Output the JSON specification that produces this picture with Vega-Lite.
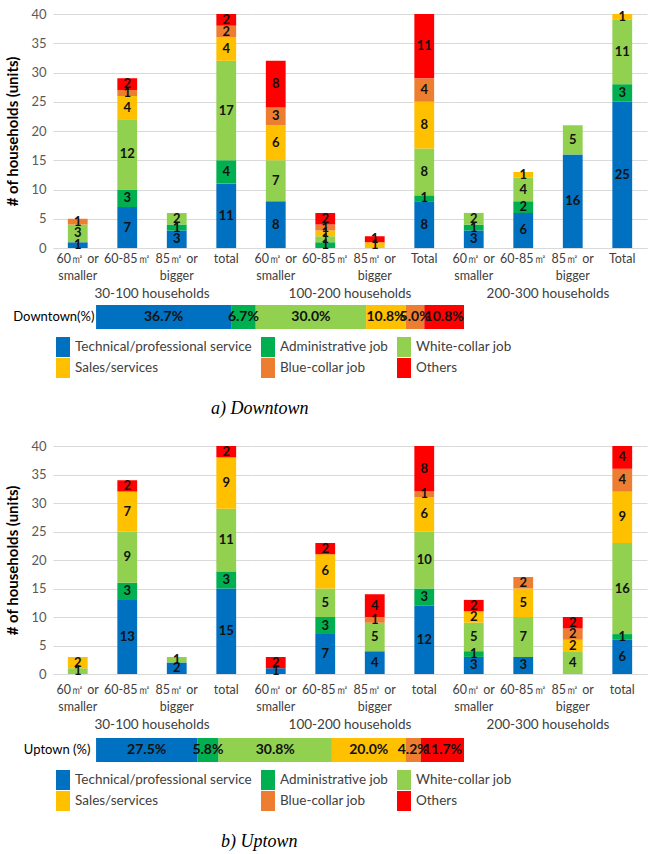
{
  "$schema": "https://vega.github.io/schema/vega-lite/v6.json",
  "background": "white",
  "padding": {"left": 5, "right": 5, "top": 8, "bottom": 0},
  "config": {"view": {"stroke": null}, "font": "Lato"},
  "datasets": {
    "jobs": [
      {"j": "Technical/professional service", "k": 1},
      {"j": "Administrative job", "k": 2},
      {"j": "White-collar job", "k": 3},
      {"j": "Sales/services", "k": 4},
      {"j": "Blue-collar job", "k": 5},
      {"j": "Others", "k": 6}
    ],
    "down": [
      {"g": "30-100 households", "s": "60㎡ or|smaller", "j": "Technical/professional service", "n": 1},
      {"g": "30-100 households", "s": "60㎡ or|smaller", "j": "White-collar job", "n": 3},
      {"g": "30-100 households", "s": "60㎡ or|smaller", "j": "Blue-collar job", "n": 1},
      {"g": "30-100 households", "s": "60-85㎡", "j": "Technical/professional service", "n": 7},
      {"g": "30-100 households", "s": "60-85㎡", "j": "Administrative job", "n": 3},
      {"g": "30-100 households", "s": "60-85㎡", "j": "White-collar job", "n": 12},
      {"g": "30-100 households", "s": "60-85㎡", "j": "Sales/services", "n": 4},
      {"g": "30-100 households", "s": "60-85㎡", "j": "Blue-collar job", "n": 1},
      {"g": "30-100 households", "s": "60-85㎡", "j": "Others", "n": 2},
      {"g": "30-100 households", "s": "85㎡ or|bigger", "j": "Technical/professional service", "n": 3},
      {"g": "30-100 households", "s": "85㎡ or|bigger", "j": "Administrative job", "n": 1},
      {"g": "30-100 households", "s": "85㎡ or|bigger", "j": "White-collar job", "n": 2},
      {"g": "30-100 households", "s": "total", "j": "Technical/professional service", "n": 11},
      {"g": "30-100 households", "s": "total", "j": "Administrative job", "n": 4},
      {"g": "30-100 households", "s": "total", "j": "White-collar job", "n": 17},
      {"g": "30-100 households", "s": "total", "j": "Sales/services", "n": 4},
      {"g": "30-100 households", "s": "total", "j": "Blue-collar job", "n": 2},
      {"g": "30-100 households", "s": "total", "j": "Others", "n": 2},
      {"g": "100-200 households", "s": "60㎡ or|smaller", "j": "Technical/professional service", "n": 8},
      {"g": "100-200 households", "s": "60㎡ or|smaller", "j": "White-collar job", "n": 7},
      {"g": "100-200 households", "s": "60㎡ or|smaller", "j": "Sales/services", "n": 6},
      {"g": "100-200 households", "s": "60㎡ or|smaller", "j": "Blue-collar job", "n": 3},
      {"g": "100-200 households", "s": "60㎡ or|smaller", "j": "Others", "n": 8},
      {"g": "100-200 households", "s": "60-85㎡", "j": "Administrative job", "n": 1},
      {"g": "100-200 households", "s": "60-85㎡", "j": "White-collar job", "n": 1},
      {"g": "100-200 households", "s": "60-85㎡", "j": "Sales/services", "n": 1},
      {"g": "100-200 households", "s": "60-85㎡", "j": "Blue-collar job", "n": 1},
      {"g": "100-200 households", "s": "60-85㎡", "j": "Others", "n": 2},
      {"g": "100-200 households", "s": "85㎡ or|bigger", "j": "Sales/services", "n": 1},
      {"g": "100-200 households", "s": "85㎡ or|bigger", "j": "Others", "n": 1},
      {"g": "100-200 households", "s": "Total", "j": "Technical/professional service", "n": 8},
      {"g": "100-200 households", "s": "Total", "j": "Administrative job", "n": 1},
      {"g": "100-200 households", "s": "Total", "j": "White-collar job", "n": 8},
      {"g": "100-200 households", "s": "Total", "j": "Sales/services", "n": 8},
      {"g": "100-200 households", "s": "Total", "j": "Blue-collar job", "n": 4},
      {"g": "100-200 households", "s": "Total", "j": "Others", "n": 11},
      {"g": "200-300 households", "s": "60㎡ or|smaller", "j": "Technical/professional service", "n": 3},
      {"g": "200-300 households", "s": "60㎡ or|smaller", "j": "Administrative job", "n": 1},
      {"g": "200-300 households", "s": "60㎡ or|smaller", "j": "White-collar job", "n": 2},
      {"g": "200-300 households", "s": "60-85㎡", "j": "Technical/professional service", "n": 6},
      {"g": "200-300 households", "s": "60-85㎡", "j": "Administrative job", "n": 2},
      {"g": "200-300 households", "s": "60-85㎡", "j": "White-collar job", "n": 4},
      {"g": "200-300 households", "s": "60-85㎡", "j": "Sales/services", "n": 1},
      {"g": "200-300 households", "s": "85㎡ or|bigger", "j": "Technical/professional service", "n": 16},
      {"g": "200-300 households", "s": "85㎡ or|bigger", "j": "White-collar job", "n": 5},
      {"g": "200-300 households", "s": "Total", "j": "Technical/professional service", "n": 25},
      {"g": "200-300 households", "s": "Total", "j": "Administrative job", "n": 3},
      {"g": "200-300 households", "s": "Total", "j": "White-collar job", "n": 11},
      {"g": "200-300 households", "s": "Total", "j": "Sales/services", "n": 1}
    ],
    "up": [
      {"g": "30-100 households", "s": "60㎡ or|smaller", "j": "White-collar job", "n": 1},
      {"g": "30-100 households", "s": "60㎡ or|smaller", "j": "Sales/services", "n": 2},
      {"g": "30-100 households", "s": "60-85㎡", "j": "Technical/professional service", "n": 13},
      {"g": "30-100 households", "s": "60-85㎡", "j": "Administrative job", "n": 3},
      {"g": "30-100 households", "s": "60-85㎡", "j": "White-collar job", "n": 9},
      {"g": "30-100 households", "s": "60-85㎡", "j": "Sales/services", "n": 7},
      {"g": "30-100 households", "s": "60-85㎡", "j": "Others", "n": 2},
      {"g": "30-100 households", "s": "85㎡ or|bigger", "j": "Technical/professional service", "n": 2},
      {"g": "30-100 households", "s": "85㎡ or|bigger", "j": "White-collar job", "n": 1},
      {"g": "30-100 households", "s": "total", "j": "Technical/professional service", "n": 15},
      {"g": "30-100 households", "s": "total", "j": "Administrative job", "n": 3},
      {"g": "30-100 households", "s": "total", "j": "White-collar job", "n": 11},
      {"g": "30-100 households", "s": "total", "j": "Sales/services", "n": 9},
      {"g": "30-100 households", "s": "total", "j": "Others", "n": 2},
      {"g": "100-200 households", "s": "60㎡ or|smaller", "j": "Technical/professional service", "n": 1},
      {"g": "100-200 households", "s": "60㎡ or|smaller", "j": "Others", "n": 2},
      {"g": "100-200 households", "s": "60-85㎡", "j": "Technical/professional service", "n": 7},
      {"g": "100-200 households", "s": "60-85㎡", "j": "Administrative job", "n": 3},
      {"g": "100-200 households", "s": "60-85㎡", "j": "White-collar job", "n": 5},
      {"g": "100-200 households", "s": "60-85㎡", "j": "Sales/services", "n": 6},
      {"g": "100-200 households", "s": "60-85㎡", "j": "Others", "n": 2},
      {"g": "100-200 households", "s": "85㎡ or|bigger", "j": "Technical/professional service", "n": 4},
      {"g": "100-200 households", "s": "85㎡ or|bigger", "j": "White-collar job", "n": 5},
      {"g": "100-200 households", "s": "85㎡ or|bigger", "j": "Blue-collar job", "n": 1},
      {"g": "100-200 households", "s": "85㎡ or|bigger", "j": "Others", "n": 4},
      {"g": "100-200 households", "s": "total", "j": "Technical/professional service", "n": 12},
      {"g": "100-200 households", "s": "total", "j": "Administrative job", "n": 3},
      {"g": "100-200 households", "s": "total", "j": "White-collar job", "n": 10},
      {"g": "100-200 households", "s": "total", "j": "Sales/services", "n": 6},
      {"g": "100-200 households", "s": "total", "j": "Blue-collar job", "n": 1},
      {"g": "100-200 households", "s": "total", "j": "Others", "n": 8},
      {"g": "200-300 households", "s": "60㎡ or|smaller", "j": "Technical/professional service", "n": 3},
      {"g": "200-300 households", "s": "60㎡ or|smaller", "j": "Administrative job", "n": 1},
      {"g": "200-300 households", "s": "60㎡ or|smaller", "j": "White-collar job", "n": 5},
      {"g": "200-300 households", "s": "60㎡ or|smaller", "j": "Sales/services", "n": 2},
      {"g": "200-300 households", "s": "60㎡ or|smaller", "j": "Others", "n": 2},
      {"g": "200-300 households", "s": "60-85㎡", "j": "Technical/professional service", "n": 3},
      {"g": "200-300 households", "s": "60-85㎡", "j": "White-collar job", "n": 7},
      {"g": "200-300 households", "s": "60-85㎡", "j": "Sales/services", "n": 5},
      {"g": "200-300 households", "s": "60-85㎡", "j": "Blue-collar job", "n": 2},
      {"g": "200-300 households", "s": "85㎡ or|bigger", "j": "White-collar job", "n": 4},
      {"g": "200-300 households", "s": "85㎡ or|bigger", "j": "Sales/services", "n": 2},
      {"g": "200-300 households", "s": "85㎡ or|bigger", "j": "Blue-collar job", "n": 2},
      {"g": "200-300 households", "s": "85㎡ or|bigger", "j": "Others", "n": 2},
      {"g": "200-300 households", "s": "total", "j": "Technical/professional service", "n": 6},
      {"g": "200-300 households", "s": "total", "j": "Administrative job", "n": 1},
      {"g": "200-300 households", "s": "total", "j": "White-collar job", "n": 16},
      {"g": "200-300 households", "s": "total", "j": "Sales/services", "n": 9},
      {"g": "200-300 households", "s": "total", "j": "Blue-collar job", "n": 4},
      {"g": "200-300 households", "s": "total", "j": "Others", "n": 4}
    ],
    "downPct": [
      {"j": "Technical/professional service", "p": 0.367},
      {"j": "Administrative job", "p": 0.067},
      {"j": "White-collar job", "p": 0.300},
      {"j": "Sales/services", "p": 0.108},
      {"j": "Blue-collar job", "p": 0.050},
      {"j": "Others", "p": 0.108}
    ],
    "upPct": [
      {"j": "Technical/professional service", "p": 0.275},
      {"j": "Administrative job", "p": 0.058},
      {"j": "White-collar job", "p": 0.308},
      {"j": "Sales/services", "p": 0.200},
      {"j": "Blue-collar job", "p": 0.042},
      {"j": "Others", "p": 0.117}
    ]
  },
  "resolve": {"scale": {"color": "independent"}, "legend": {"color": "independent"}},
  "spacing": 22,
  "vconcat": [
    {
      "spacing": 4,
      "resolve": {"scale": {"color": "independent"}, "legend": {"color": "independent"}},
      "vconcat": [
        {
          "data": {"name": "down"},
          "transform": [{"lookup": "j", "from": {"data": {"name": "jobs"}, "key": "j", "fields": ["k"]}}],
          "facet": {"column": {"field": "g", "type": "nominal", "sort": ["30-100 households", "100-200 households", "200-300 households"], "header": {"title": null, "labelOrient": "bottom", "labelFont": "Lato", "labelFontSize": 13.5, "labelColor": "#404040", "labelPadding": 5}}},
          "spacing": 0,
          "resolve": {"scale": {"x": "independent"}},
          "spec": {
            "width": 198,
            "height": 234,
            "encoding": {
              "x": {"field": "s", "type": "nominal", "sort": ["60㎡ or|smaller", "60-85㎡", "85㎡ or|bigger", "total", "Total"], "scale": {"paddingInner": 0.6, "paddingOuter": 0.3}, "axis": {"title": null, "labelAngle": 0, "labelExpr": "split(datum.label, '|')", "labelFont": "Lato", "labelFontSize": 12.5, "labelColor": "#404040", "labelLineHeight": 17, "ticks": false, "domainColor": "#d9d9d9", "labelPadding": 4}},
              "order": {"field": "k", "type": "quantitative", "sort": "ascending"}
            },
            "layer": [
              {
                "mark": {"type": "bar"},
                "encoding": {
                  "y": {"field": "n", "type": "quantitative", "stack": "zero", "scale": {"domain": [0, 40]}, "axis": {"title": "# of households (units)", "titleFont": "Lato", "titleFontSize": 15, "titleFontWeight": "bold", "titleColor": "black", "titlePadding": 10, "values": [0, 5, 10, 15, 20, 25, 30, 35, 40], "labelOverlap": false, "labelFont": "Lato", "labelFontSize": 13, "labelColor": "#595959", "domain": false, "ticks": false, "gridColor": "#d9d9d9", "labelPadding": 7}},
                  "color": {"field": "j", "type": "nominal", "scale": {"domain": ["Technical/professional service", "Administrative job", "White-collar job", "Sales/services", "Blue-collar job", "Others"], "range": ["#0070C0", "#00B050", "#92D050", "#FFC000", "#ED7D31", "#FF0000"]}, "legend": null}
                }
              },
              {
                "mark": {"type": "text", "font": "Lato", "fontWeight": "bold", "fontSize": 13, "color": "#111111"},
                "encoding": {
                  "y": {"field": "n", "type": "quantitative", "stack": "zero", "bandPosition": 0.5, "scale": {"domain": [0, 40]}, "axis": {"title": "# of households (units)", "titleFont": "Lato", "titleFontSize": 15, "titleFontWeight": "bold", "titleColor": "black", "titlePadding": 10, "values": [0, 5, 10, 15, 20, 25, 30, 35, 40], "labelOverlap": false, "labelFont": "Lato", "labelFontSize": 13, "labelColor": "#595959", "domain": false, "ticks": false, "gridColor": "#d9d9d9", "labelPadding": 7}},
                  "text": {"field": "n", "type": "quantitative"},
                  "detail": {"field": "j", "type": "nominal"}
                }
              }
            ]
          }
        },
        {
          "data": {"name": "downPct"},
          "transform": [{"lookup": "j", "from": {"data": {"name": "jobs"}, "key": "j", "fields": ["k"]}}],
          "width": 595,
          "height": 24,
          "title": {"text": "a)  Downtown", "orient": "bottom", "anchor": "start", "frame": "group", "dx": 158, "font": "Liberation Serif", "fontSize": 18, "fontStyle": "italic", "fontWeight": "normal", "color": "black", "offset": 22},
          "encoding": {
            "y": {"datum": "Downtown(%)", "type": "nominal", "scale": {"paddingInner": 0, "paddingOuter": 0}, "axis": {"title": null, "domain": false, "ticks": false, "labelFont": "Lato", "labelFontSize": 13, "labelColor": "black", "offset": -43, "labelPadding": 2}},
            "order": {"field": "k", "type": "quantitative", "sort": "ascending"}
          },
          "layer": [
            {
              "mark": {"type": "bar"},
              "encoding": {
                "x": {"field": "p", "type": "quantitative", "stack": "zero", "scale": {"domain": [-0.117, 1.5], "nice": false, "zero": false}, "axis": null},
                "color": {"field": "j", "type": "nominal", "sort": ["Technical/professional service", "Administrative job", "White-collar job", "Sales/services", "Blue-collar job", "Others"], "scale": {"domain": ["Technical/professional service", "Administrative job", "White-collar job", "Sales/services", "Blue-collar job", "Others"], "range": ["#0070C0", "#00B050", "#92D050", "#FFC000", "#ED7D31", "#FF0000"]}, "legend": {"orient": "bottom", "direction": "horizontal", "columns": 3, "title": null, "labelFont": "Lato", "labelFontSize": 13.5, "labelColor": "#404040", "labelOffset": 2, "symbolType": "M-0.7,-1H0.7V1H-0.7Z", "symbolSize": 400, "symbolStrokeWidth": 0, "columnPadding": 6, "rowPadding": 1, "offset": 8, "labelLimit": 300}}
              }
            },
            {
              "mark": {"type": "text", "font": "Lato", "fontWeight": "bold", "fontSize": 14, "color": "#111111"},
              "encoding": {
                "x": {"field": "p", "type": "quantitative", "stack": "zero", "bandPosition": 0.5, "scale": {"domain": [-0.117, 1.5], "nice": false, "zero": false}, "axis": null},
                "text": {"field": "p", "type": "quantitative", "format": ".1%"},
                "detail": {"field": "j", "type": "nominal"}
              }
            }
          ]
        }
      ]
    },
    {
      "spacing": 6,
      "resolve": {"scale": {"color": "independent"}, "legend": {"color": "independent"}},
      "vconcat": [
        {
          "data": {"name": "up"},
          "transform": [{"lookup": "j", "from": {"data": {"name": "jobs"}, "key": "j", "fields": ["k"]}}],
          "facet": {"column": {"field": "g", "type": "nominal", "sort": ["30-100 households", "100-200 households", "200-300 households"], "header": {"title": null, "labelOrient": "bottom", "labelFont": "Lato", "labelFontSize": 13.5, "labelColor": "#404040", "labelPadding": 5}}},
          "spacing": 0,
          "resolve": {"scale": {"x": "independent"}},
          "spec": {
            "width": 198,
            "height": 228,
            "encoding": {
              "x": {"field": "s", "type": "nominal", "sort": ["60㎡ or|smaller", "60-85㎡", "85㎡ or|bigger", "total", "Total"], "scale": {"paddingInner": 0.6, "paddingOuter": 0.3}, "axis": {"title": null, "labelAngle": 0, "labelExpr": "split(datum.label, '|')", "labelFont": "Lato", "labelFontSize": 12.5, "labelColor": "#404040", "labelLineHeight": 17, "ticks": false, "domainColor": "#d9d9d9", "labelPadding": 9}},
              "order": {"field": "k", "type": "quantitative", "sort": "ascending"}
            },
            "layer": [
              {
                "mark": {"type": "bar"},
                "encoding": {
                  "y": {"field": "n", "type": "quantitative", "stack": "zero", "scale": {"domain": [0, 40]}, "axis": {"title": "# of households (units)", "titleFont": "Lato", "titleFontSize": 15, "titleFontWeight": "bold", "titleColor": "black", "titlePadding": 10, "values": [0, 5, 10, 15, 20, 25, 30, 35, 40], "labelOverlap": false, "labelFont": "Lato", "labelFontSize": 13, "labelColor": "#595959", "domain": false, "ticks": false, "gridColor": "#d9d9d9", "labelPadding": 7}},
                  "color": {"field": "j", "type": "nominal", "scale": {"domain": ["Technical/professional service", "Administrative job", "White-collar job", "Sales/services", "Blue-collar job", "Others"], "range": ["#0070C0", "#00B050", "#92D050", "#FFC000", "#ED7D31", "#FF0000"]}, "legend": null}
                }
              },
              {
                "mark": {"type": "text", "font": "Lato", "fontWeight": "bold", "fontSize": 13, "color": "#111111"},
                "encoding": {
                  "y": {"field": "n", "type": "quantitative", "stack": "zero", "bandPosition": 0.5, "scale": {"domain": [0, 40]}, "axis": {"title": "# of households (units)", "titleFont": "Lato", "titleFontSize": 15, "titleFontWeight": "bold", "titleColor": "black", "titlePadding": 10, "values": [0, 5, 10, 15, 20, 25, 30, 35, 40], "labelOverlap": false, "labelFont": "Lato", "labelFontSize": 13, "labelColor": "#595959", "domain": false, "ticks": false, "gridColor": "#d9d9d9", "labelPadding": 7}},
                  "text": {"field": "n", "type": "quantitative"},
                  "detail": {"field": "j", "type": "nominal"}
                }
              }
            ]
          }
        },
        {
          "data": {"name": "upPct"},
          "transform": [{"lookup": "j", "from": {"data": {"name": "jobs"}, "key": "j", "fields": ["k"]}}],
          "width": 595,
          "height": 24,
          "title": {"text": "b)  Uptown", "orient": "bottom", "anchor": "start", "frame": "group", "dx": 168, "font": "Liberation Serif", "fontSize": 18, "fontStyle": "italic", "fontWeight": "normal", "color": "black", "offset": 22},
          "encoding": {
            "y": {"datum": "Uptown (%)", "type": "nominal", "scale": {"paddingInner": 0, "paddingOuter": 0}, "axis": {"title": null, "domain": false, "ticks": false, "labelFont": "Lato", "labelFontSize": 13, "labelColor": "black", "offset": -43, "labelPadding": 6}},
            "order": {"field": "k", "type": "quantitative", "sort": "ascending"}
          },
          "layer": [
            {
              "mark": {"type": "bar"},
              "encoding": {
                "x": {"field": "p", "type": "quantitative", "stack": "zero", "scale": {"domain": [-0.117, 1.5], "nice": false, "zero": false}, "axis": null},
                "color": {"field": "j", "type": "nominal", "sort": ["Technical/professional service", "Administrative job", "White-collar job", "Sales/services", "Blue-collar job", "Others"], "scale": {"domain": ["Technical/professional service", "Administrative job", "White-collar job", "Sales/services", "Blue-collar job", "Others"], "range": ["#0070C0", "#00B050", "#92D050", "#FFC000", "#ED7D31", "#FF0000"]}, "legend": {"orient": "bottom", "direction": "horizontal", "columns": 3, "title": null, "labelFont": "Lato", "labelFontSize": 13.5, "labelColor": "#404040", "labelOffset": 2, "symbolType": "M-0.7,-1H0.7V1H-0.7Z", "symbolSize": 400, "symbolStrokeWidth": 0, "columnPadding": 6, "rowPadding": 1, "offset": 8, "labelLimit": 300}}
              }
            },
            {
              "mark": {"type": "text", "font": "Lato", "fontWeight": "bold", "fontSize": 14, "color": "#111111"},
              "encoding": {
                "x": {"field": "p", "type": "quantitative", "stack": "zero", "bandPosition": 0.5, "scale": {"domain": [-0.117, 1.5], "nice": false, "zero": false}, "axis": null},
                "text": {"field": "p", "type": "quantitative", "format": ".1%"},
                "detail": {"field": "j", "type": "nominal"}
              }
            }
          ]
        }
      ]
    }
  ]
}
